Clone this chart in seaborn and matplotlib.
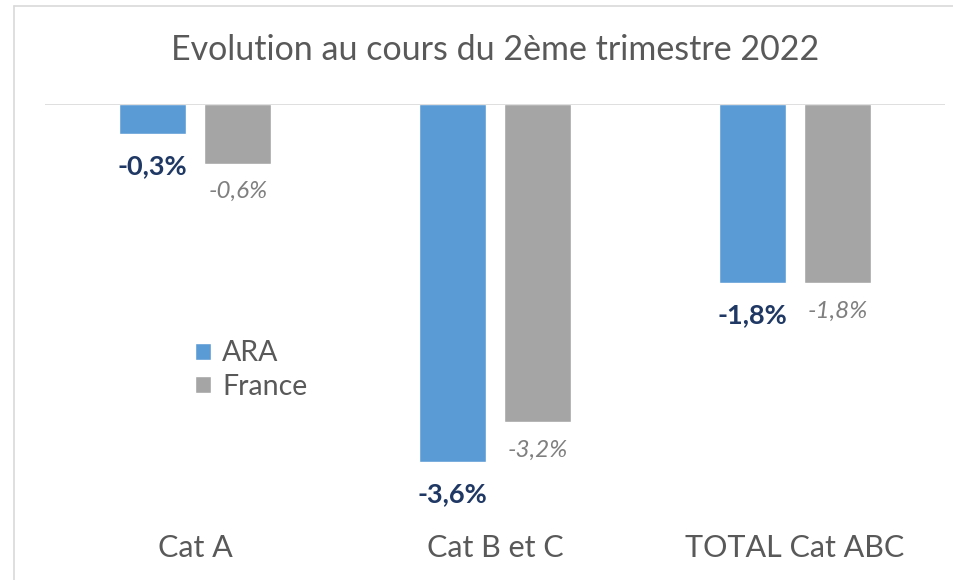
"""
Evolution au cours du 2ème trimestre 2022 - ARA vs France
"""

import pandas as pd
import matplotlib.pyplot as plt
import matplotlib.lines as mlines
import seaborn as sns

sns.set_style('white')
plt.rcParams['font.family'] = ['Lato', 'DejaVu Sans']

# Data
categories = ['Cat A', 'Cat B et C', 'TOTAL Cat ABC']
series = ['ARA', 'France']
ara_values = [-0.3, -3.6, -1.8]
france_values = [-0.6, -3.2, -1.8]
title = 'Evolution au cours du 2ème trimestre 2022'

df = pd.DataFrame({
    'categorie': categories * 2,
    'zone': [series[0]] * 3 + [series[1]] * 3,
    'evolution': ara_values + france_values,
})

colors = {'ARA': '#5B9BD5', 'France': '#A5A5A5'}

fig = plt.figure(figsize=(9.54, 5.8), dpi=100)
ax = fig.add_axes([45 / 954, 1 - 502 / 580, 900 / 954, 398 / 580])

sns.barplot(data=df, x='categorie', y='evolution', hue='zone', palette=colors,
            saturation=1, width=0.572, gap=0.22, ax=ax, legend=True)

ax.set_ylim(-4, 0)
ax.set_xlim(-0.5, 2.5)
ax.axhline(0, color='#D9D9D9', lw=1.2)
for s in ax.spines.values():
    s.set_visible(False)
ax.set_yticks([])
ax.set_xlabel('')
ax.set_ylabel('')
ax.tick_params(axis='x', length=0, pad=23, labelsize=22, labelcolor='#595959')

# Value labels under each bar
styles = [dict(color='#1F3864', fontsize=19.5, fontweight='bold', off=-32),
          dict(color='#7F7F7F', fontsize=17.5, fontstyle='italic', off=-28)]
for cont, st in zip(ax.containers, styles):
    for bar in cont:
        val = bar.get_height()
        txt = f'{val:.1f}%'.replace('.', ',')
        ax.annotate(txt, (bar.get_x() + bar.get_width() / 2, val),
                    xytext=(0, st['off'] * 0.72), textcoords='offset points',
                    ha='center', va='center', color=st['color'],
                    fontsize=st['fontsize'], fontweight=st.get('fontweight', 'normal'),
                    fontstyle=st.get('fontstyle', 'normal'))

ax.legend(loc='center left', bbox_to_anchor=(181 / 954, 1 - 370 / 580),
          bbox_transform=fig.transFigure, frameon=False, fontsize=20.5,
          labelcolor='#595959', handlelength=0.55, handleheight=0.55,
          handletextpad=0.4, labelspacing=0.25, borderpad=0, title=None)

fig.suptitle(title, x=495 / 954, y=1 - 50 / 580, va='center', fontsize=24.5,
             color='#595959')

# light chart frame (left and top edges)
fig.add_artist(mlines.Line2D([14 / 954, 14 / 954], [0, 1 - 6 / 580],
                             transform=fig.transFigure, color='#D9D9D9', lw=1.2))
fig.add_artist(mlines.Line2D([14 / 954, 1], [1 - 6 / 580, 1 - 6 / 580],
                             transform=fig.transFigure, color='#D9D9D9', lw=1.2))

fig.savefig('out.png', dpi=100, facecolor='white')
plt.close(fig)
